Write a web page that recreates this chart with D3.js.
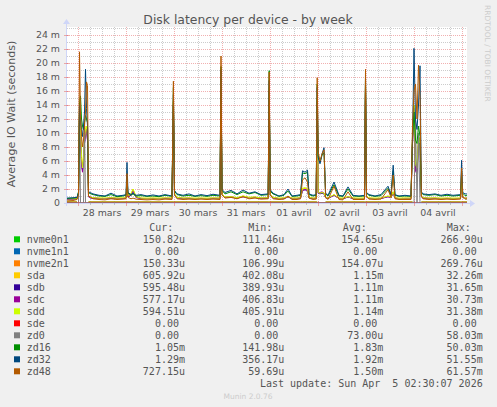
<!DOCTYPE html>
<html><head><meta charset="utf-8">
<script src="https://cdn.jsdelivr.net/npm/d3@7/dist/d3.min.js"></script>
<style>
html,body{margin:0;padding:0;background:#F0F0F0;}
svg{display:block;}
text{font-family:"DejaVu Sans",sans-serif;}
.mono{font-family:"DejaVu Sans Mono",monospace;}
</style></head>
<body>
<script>
// ---- DATA ----
const titleText = "Disk latency per device - by week";
const yLabel = "Average IO Wait (seconds)";
const dayLabels = ["28 mars","29 mars","30 mars","31 mars","01 avril","02 avril","03 avril","04 avril"];
const yTicks = [0,2,4,6,8,10,12,14,16,18,20,22,24];
const yTickLabels = ["0","2 m","4 m","6 m","8 m","10 m","12 m","14 m","16 m","18 m","20 m","22 m","24 m"];

// hours since Mar 27 18:30 (graph start)
const hours = [0,3,5,5.75,6.25,6.75,7.25,7.75,8.25,8.75,
9.25,9.75,10.25,10.75,11.5,13,16,19,22,25,
28,29.5,30,30.5,32,33,34.5,37,40,43,
46,49,52.5,53.2,53.75,55,58,61,64,67,
70,73,76.5,77,77.5,79,82,85,88,91,
94,97,100.6,101.1,101.6,103,106,108.5,110.5,112.5,
115,116.75,117.75,119,120.25,121,123,124.6,125.1,125.6,
126.5,127.5,128.5,129.3,130.5,133.5,136,138,140.5,143,
146,148.75,149.25,149.75,151,154,157,160.5,162,163.1,
164,166,169,172,172.75,173.5,174.25,175,175.75,176.5,
177.2,178,181,184,187,190,193,196.75,197.3,197.85,
199,200];

// values in milliseconds
const nvme0n1 = [0.15,0.15,0.15,null,null,null,null,null,null,null,
null,null,null,0.15,0.15,0.15,0.15,0.15,0.15,0.15,
0.15,0.15,0.15,0.15,0.15,0.15,0.15,0.15,0.15,0.15,
0.15,0.15,0.15,0.15,0.15,0.15,0.15,0.15,0.15,0.15,
0.15,0.15,0.15,0.15,0.15,0.15,0.15,0.15,0.15,0.15,
0.15,0.15,0.15,0.15,0.15,0.15,0.15,0.15,0.15,0.15,
0.15,0.15,0.15,0.15,0.15,0.15,0.15,0.15,0.15,null,
null,null,null,0.15,0.15,0.15,0.15,0.15,0.15,0.15,
0.15,0.15,0.15,0.15,0.15,0.15,0.15,0.15,0.15,0.15,
0.15,0.15,0.15,0.15,0.15,null,null,null,null,null,
0.15,0.15,0.15,0.15,0.15,0.15,0.15,0.15,0.15,0.15,
0.15,0.15];
const nvme1n1 = [0,0,0,0,0,0,0,0,0,0, 0,0,0,0,0,0,0,0,0,0, 0,0,0,0,0,0,0,0,0,0,
0,0,0,0,0,0,0,0,0,0, 0,0,0,0,0,0,0,0,0,0, 0,0,0,0,0,0,0,0,0,0,
0,0,0,0,0,0,0,0,0,0, 0,0,0,0,0,0,0,0,0,0, 0,0,0,0,0,0,0,0,0,0,
0,0,0,0,0,0,0,0,0,0, 0,0,0,0,0,0,0,0,0,0, 0,0];
const nvme2n1 = [0.15,0.15,0.15,null,null,null,null,null,null,null,
null,null,null,0.15,0.15,0.15,0.15,0.15,0.15,0.15,
0.15,0.15,0.15,0.15,0.15,0.15,0.15,0.15,0.15,0.15,
0.15,0.15,0.15,0.15,0.15,0.15,0.15,0.15,0.15,0.15,
0.15,0.15,0.15,0.15,0.15,0.15,0.15,0.15,0.15,0.15,
0.15,0.15,0.15,0.15,0.15,0.15,0.15,0.15,0.15,0.15,
0.15,0.15,0.15,0.15,0.15,0.15,0.15,0.15,0.15,null,
null,null,null,0.15,0.15,0.15,0.15,0.15,0.15,0.15,
0.15,0.15,0.15,0.15,0.15,0.15,0.15,0.15,0.15,0.15,
0.15,0.15,0.15,0.15,0.15,null,null,null,null,null,
0.15,0.15,0.15,0.15,0.15,0.15,0.15,0.15,0.15,0.15,
0.15,0.15];
const sda = [0.6,0.62,0.65,1.3,13.0,10.0,7.0,5.2,6.5,9.0,
10.5,11.0,9.5,1.0,0.85,0.75,0.7,0.68,0.75,0.7,
0.7,0.75,2.5,1.0,1.2,2.0,0.9,0.7,0.68,0.7,
0.68,0.72,0.7,14.5,1.3,0.8,0.7,0.72,0.68,0.7,
0.68,0.72,0.7,18.0,1.3,0.85,0.9,0.75,1.0,0.8,
0.85,0.72,0.75,16.5,1.2,0.8,0.68,0.72,0.9,0.7,
0.7,0.75,2.0,2.1,2.0,0.8,0.7,0.72,15.0,1.5,
1.4,1.5,1.4,0.8,0.7,1.2,0.7,0.68,0.9,0.7,
0.68,0.7,17.0,1.0,0.72,0.68,0.7,1.0,0.8,1.6,
0.75,0.68,0.7,0.7,9.0,14.0,6.0,5.0,9.0,9.0,
1.0,0.75,0.7,0.72,0.68,0.7,0.68,0.7,3.0,0.9,
0.6,0.61];
const sdb = [0.55,0.57,0.6,1.2,12.5,9.5,6.0,4.6,6.0,8.5,
10.0,10.5,9.0,0.9,0.75,0.7,0.65,0.62,0.7,0.65,
0.65,0.7,2.3,0.9,1.1,1.8,0.8,0.65,0.62,0.65,
0.62,0.66,0.65,14.0,1.2,0.75,0.65,0.66,0.62,0.65,
0.62,0.66,0.65,17.5,1.2,0.8,0.85,0.7,0.9,0.75,
0.8,0.66,0.7,16.0,1.1,0.75,0.62,0.66,0.85,0.65,
0.65,0.7,1.8,1.9,1.8,0.75,0.65,0.66,14.5,1.4,
1.3,1.4,1.3,0.75,0.65,1.1,0.65,0.62,0.85,0.65,
0.62,0.65,16.5,0.9,0.66,0.62,0.65,0.9,0.75,1.5,
0.7,0.62,0.65,0.65,8.5,13.5,5.0,4.5,8.5,8.5,
0.9,0.7,0.65,0.66,0.62,0.65,0.62,0.65,2.8,0.85,
0.6,0.6];
const sdc = [0.55,0.56,0.6,1.2,12.5,9.0,5.5,4.4,5.8,8.5,
10.0,10.5,9.0,0.9,0.75,0.7,0.65,0.62,0.7,0.65,
0.65,0.7,2.3,0.9,1.1,1.8,0.8,0.65,0.62,0.65,
0.62,0.66,0.65,14.0,1.2,0.75,0.65,0.66,0.62,0.65,
0.62,0.66,0.65,17.5,1.2,0.8,0.85,0.7,0.9,0.75,
0.8,0.66,0.7,16.0,1.1,0.75,0.62,0.66,0.85,0.65,
0.65,0.7,1.8,1.9,1.8,0.75,0.65,0.66,14.5,1.4,
1.5,1.6,1.4,0.75,0.65,1.1,0.65,0.62,0.85,0.65,
0.62,0.65,16.5,0.9,0.66,0.62,0.65,0.9,0.75,1.5,
0.7,0.62,0.65,0.65,8.5,13.5,4.5,4.2,8.5,8.5,
0.9,0.7,0.65,0.66,0.62,0.65,0.62,0.65,2.8,0.85,
0.58,0.58];
const sdd = [0.6,0.6,0.62,1.3,13.0,10.5,6.5,5.0,6.2,9.0,
10.5,11.0,9.5,1.0,0.85,0.75,0.7,0.7,0.75,0.7,
0.72,0.75,2.4,1.0,1.3,2.0,0.9,0.7,0.68,0.7,
0.68,0.72,0.7,14.5,1.3,0.8,0.7,0.72,0.68,0.7,
0.68,0.72,0.7,18.0,1.3,0.85,0.9,0.75,1.0,0.8,
0.85,0.72,0.75,16.5,1.2,0.8,0.68,0.72,0.9,0.7,
0.7,0.75,2.1,2.2,2.0,0.8,0.7,0.72,15.0,1.5,
1.4,1.5,1.4,0.8,0.7,1.2,0.7,0.68,0.9,0.7,
0.68,0.7,17.0,1.0,0.72,0.68,0.7,1.0,0.8,1.6,
0.75,0.68,0.7,0.7,9.0,14.0,5.5,5.0,9.5,9.0,
1.0,0.75,0.7,0.72,0.68,0.7,0.68,0.7,3.0,0.9,
0.6,0.59];
const sde = [0,0,0,0,0,0,0,0,0,0, 0,0,0,0,0,0,0,0,0,0, 0,0,0,0,0,0,0,0,0,0,
0,0,0,0,0,0,0,0,0,0, 0,0,0,0,0,0,0,0,0,0, 0,0,0,0,0,0,0,0,0,0,
0,0,0,0,0,0,0,0,0,0, 0,0,0,0,0,0,0,0,0,0, 0,0,0,0,0,0,0,0,0,0,
0,0,0,0,0,0,0,0,0,0, 0,0,0,0,0,0,0,0,0,0, 0,0];
const zd0 = [0,0,0,0,13.0,0,0,0,0,11.5, 0,0,0,0,0,0,0,0,0,0, 0,0,0,0,0,0,0,0,0,0,
0,0,0,0,0,0,0,0,0,0, 0,0,0,0,0,0,0,0,0,0, 0,0,0,0,0,0,0,0,0,0,
0,0,0,0,0,0,0,0,0,0, 0,0,0,0,0,0,0,0,0,0, 0,0,0,0,0,0,0,0,0,0,
0,0,0,0,0,0,12.0,0,10.0,0, 0,0,0,0,0,0,0,0,0,0, 0,0];
const zd16 = [0.65,0.7,0.75,1.6,14.5,15.3,12.0,11.0,10.5,11.5,
12.5,12.0,11.5,1.5,1.35,1.2,1.0,0.95,1.2,0.9,
1.0,1.1,3.5,1.4,1.1,1.3,1.0,1.05,0.95,1.0,
0.9,1.1,0.95,16.5,1.7,1.2,1.0,1.1,0.95,1.05,
0.95,1.1,1.0,19.5,1.8,1.3,1.6,1.2,1.6,1.3,
1.5,1.1,1.2,18.9,1.7,1.3,0.95,1.1,1.7,0.95,
1.0,1.1,4.3,4.2,4.4,1.2,1.0,1.1,17.0,6.8,
5.8,6.8,7.2,1.3,1.0,2.6,1.0,0.95,2.0,1.0,
0.95,1.0,18.2,1.4,1.1,0.95,1.05,2.1,1.1,4.6,
1.1,0.95,1.0,0.95,9.5,13.0,9.0,8.5,11.0,9.5,
1.5,1.2,1.1,1.2,1.0,1.1,1.0,1.1,4.5,1.4,
1.05,1.05];
const zd32 = [0.7,0.75,0.8,1.5,14.0,12.0,10.5,9.5,11.0,13.0,
19.1,13.5,11.0,1.6,1.5,1.3,1.1,1.0,1.4,1.0,
1.1,1.2,5.8,1.5,1.2,1.4,1.1,1.2,1.0,1.15,
1.0,1.2,1.0,15.5,1.8,1.3,1.1,1.3,1.0,1.2,
1.05,1.25,1.1,19.0,1.9,1.5,1.8,1.3,1.85,1.4,
1.6,1.2,1.3,17.5,1.9,1.4,1.0,1.2,2.0,1.0,
1.1,1.2,4.6,4.4,4.7,1.3,1.1,1.2,16.5,6.5,
5.6,7.0,7.9,1.4,1.1,3.0,1.1,1.0,2.3,1.1,
1.0,1.1,17.8,1.5,1.2,1.0,1.2,2.4,1.2,5.4,
1.2,1.0,1.1,1.0,9.0,22.1,12.0,10.5,14.0,19.6,
1.6,1.3,1.2,1.3,1.1,1.25,1.1,1.2,6.1,1.5,
1.3,1.29];
const zd48 = [0.3,0.35,0.5,1.2,21.6,12.5,9.5,8.0,9.0,11.0,
13.0,17.3,16.8,1.0,0.9,0.6,0.5,0.45,0.6,0.5,
0.55,0.6,4.2,0.8,0.6,0.7,0.55,0.5,0.45,0.5,
0.45,0.55,0.5,17.4,1.2,0.6,0.5,0.55,0.5,0.55,
0.5,0.55,0.5,21.0,1.2,0.7,0.8,0.6,0.9,0.6,
0.7,0.55,0.6,18.7,1.2,0.6,0.5,0.55,1.0,0.5,
0.5,0.6,3.3,3.6,3.0,0.7,0.5,0.55,17.9,7.3,
6.0,7.0,7.6,0.8,0.5,2.4,0.5,0.45,1.6,0.5,
0.5,0.5,19.1,0.9,0.55,0.5,0.55,1.9,0.8,4.0,
0.6,0.5,0.5,0.5,11.0,16.0,17.0,12.0,19.7,15.0,
1.0,0.6,0.5,0.55,0.5,0.55,0.5,0.55,5.0,0.8,
0.7,0.73];

const names = ["nvme0n1","nvme1n1","nvme2n1","sda","sdb","sdc","sdd","sde","zd0","zd16","zd32","zd48"];
const colors = ["#00CC00","#0066B3","#FF8000","#FFCC00","#330099","#990099","#CCFF00","#FF0000","#808080","#008F00","#00487D","#B35A00"];
const curVals = ["150.82u","0.00","150.33u","605.92u","595.48u","577.17u","594.51u","0.00","0.00","1.05m","1.29m","727.15u"];
const minVals = ["111.46u","0.00","106.99u","402.08u","389.93u","406.83u","405.91u","0.00","0.00","141.98u","356.17u","59.69u"];
const avgVals = ["154.65u","0.00","154.07u","1.15m","1.11m","1.11m","1.14m","0.00","73.00u","1.83m","1.92m","1.50m"];
const maxVals = ["266.90u","0.00","269.76u","32.26m","31.65m","30.73m","31.38m","0.00","58.03m","50.03m","51.55m","61.57m"];
const seriesValues = [nvme0n1,nvme1n1,nvme2n1,sda,sdb,sdc,sdd,sde,zd0,zd16,zd32,zd48];

// ---- DRAW ----
const W = 497, H = 407;
const svg = d3.select("body").append("svg").attr("width", W).attr("height", H);
svg.append("rect").attr("width", W).attr("height", H).attr("fill", "#F0F0F0");

const start = new Date(2026, 2, 27, 18, 30);
const end = new Date(start.getTime() + 200 * 3600e3);
const L = 67, R = 467, B = 203, T = 27;
const x = d3.scaleTime().domain([start, end]).range([L, R]);
const y = d3.scaleLinear().domain([0, 176 / 7]).range([B, T]);

svg.append("rect").attr("x", L).attr("y", T).attr("width", R - L).attr("height", B - T).attr("fill", "#FFFFFF");

const FONT = "#555555";
const gMinor = "rgba(143,143,143,0.45)";
const gMajor = "rgba(224,80,80,0.45)";
const grid = svg.append("g").attr("shape-rendering", "crispEdges");

// horizontal grid
d3.range(1, 26).forEach(v => {
  const yy = Math.round(y(v)) + 0.5;
  if (yy < T) return;
  grid.append("line").attr("x1", L).attr("x2", R).attr("y1", yy).attr("y2", yy)
    .attr("stroke", v % 2 === 0 ? gMajor : gMinor).attr("stroke-dasharray", "1,1");
});
// vertical grid
d3.timeHour.every(6).range(start, end).forEach(t => {
  const xx = Math.round(x(t)) + 0.5;
  const major = t.getHours() === 0;
  grid.append("line").attr("x1", xx).attr("x2", xx).attr("y1", T).attr("y2", B)
    .attr("stroke", major ? gMajor : gMinor).attr("stroke-dasharray", "1,1");
});

// series lines
const times = hours.map(h => new Date(start.getTime() + h * 3600e3));
const line = d3.line().defined(d => d[1] != null).x(d => x(d[0])).y(d => y(d[1]));
seriesValues.forEach((vals, i) => {
  const pts = vals.map((v, k) => [times[k], v]);
  svg.append("path").attr("d", line(pts)).attr("fill", "none")
    .attr("stroke", colors[i]).attr("stroke-width", 1).attr("stroke-linejoin", "miter");
});

// axes
const AX = "#CFD6F8";
const ax = svg.append("g").attr("shape-rendering", "crispEdges");
ax.append("line").attr("x1", L - 3).attr("x2", R + 4).attr("y1", B + 0.5).attr("y2", B + 0.5).attr("stroke", AX);
ax.append("line").attr("x1", L - 0.5).attr("x2", L - 0.5).attr("y1", B + 3).attr("y2", T - 4).attr("stroke", AX);
svg.append("path").attr("d", `M${R + 3},${B - 3} L${R + 8},${B + 0.5} L${R + 3},${B + 4} Z`).attr("fill", AX);
svg.append("path").attr("d", `M${L - 4},${T - 3} L${L - 0.5},${T - 8} L${L + 3},${T - 3} Z`).attr("fill", AX);
// tick marks
d3.timeHour.every(6).range(start, end).forEach(t => {
  const xx = Math.round(x(t)) + 0.5;
  const major = t.getHours() === 0;
  ax.append("line").attr("x1", xx).attr("x2", xx).attr("y1", B - (major ? 2 : 1)).attr("y2", B + (major ? 3 : 2)).attr("stroke", major ? gMajor : gMinor);
});
yTicks.forEach(v => {
  const yy = Math.round(y(v)) + 0.5;
  if (v === 0) return;
  ax.append("line").attr("x1", L - 3).attr("x2", L + 2).attr("y1", yy).attr("y2", yy).attr("stroke", gMajor);
});

// y tick labels
yTicks.forEach((v, i) => {
  svg.append("text").attr("x", 60).attr("y", y(v) + 3.4).attr("text-anchor", "end")
    .attr("font-size", 9.4).attr("fill", FONT).text(yTickLabels[i]);
});
// x day labels at noon
const days = d3.timeDay.range(d3.timeDay.ceil(start), end).slice(0, dayLabels.length);
days.forEach((d, i) => {
  const noon = new Date(d.getTime() + 12 * 3600e3);
  svg.append("text").attr("x", x(noon)).attr("y", 215.5).attr("text-anchor", "middle")
    .attr("font-size", 9.4).attr("fill", FONT).text(dayLabels[i]);
});

// title & labels
svg.append("text").attr("x", 248).attr("y", 24).attr("text-anchor", "middle")
  .attr("font-size", 12.4).attr("fill", FONT).text(titleText);
svg.append("text").attr("transform", "translate(14.8,114) rotate(-90)").attr("text-anchor", "middle")
  .attr("font-size", 11.1).attr("fill", FONT).text(yLabel);
svg.append("text").attr("transform", "translate(485,5) rotate(90)").attr("text-anchor", "start")
  .attr("font-size", 7.5).attr("fill", "#CCCCCC").text("RRDTOOL / TOBI OETIKER");

// legend
const CW = 6.02;
const colEnds = [185, 284.3, 383.3, 482.7];
const headers = ["Cur:", "Min:", "Avg:", "Max:"];
const headerX = [149.3, 248.3, 342.7, 446.7];
headers.forEach((h, i) => {
  svg.append("text").attr("class", "mono").attr("x", headerX[i]).attr("y", 230.6)
    .attr("font-size", 10).attr("fill", FONT).text(h);
});
const cols = [curVals, minVals, avgVals, maxVals];
names.forEach((n, i) => {
  const cy = 239.3 + i * 12;
  svg.append("rect").attr("x", 14).attr("y", cy - 3).attr("width", 6).attr("height", 6).attr("fill", colors[i]);
  svg.append("text").attr("class", "mono").attr("x", 26.7).attr("y", cy + 3.5)
    .attr("font-size", 10).attr("fill", FONT).text(n);
  cols.forEach((c, j) => {
    const s = c[i];
    const hasUnit = /[a-z]$/i.test(s);
    svg.append("text").attr("class", "mono").attr("x", colEnds[j] - (hasUnit ? 0 : CW)).attr("y", cy + 3.5)
      .attr("text-anchor", "end").attr("font-size", 10).attr("fill", FONT).text(s);
  });
});
svg.append("text").attr("class", "mono").attr("x", 482.7).attr("y", 386.9).attr("text-anchor", "end")
  .attr("font-size", 10).attr("fill", FONT).attr("xml:space", "preserve").style("white-space", "pre")
  .text("Last update: Sun Apr  5 02:30:07 2026");
svg.append("text").attr("x", 248).attr("y", 398.6).attr("text-anchor", "middle")
  .attr("font-size", 7.5).attr("fill", "#CCCCCC").text("Munin 2.0.76");
</script>
</body></html>
